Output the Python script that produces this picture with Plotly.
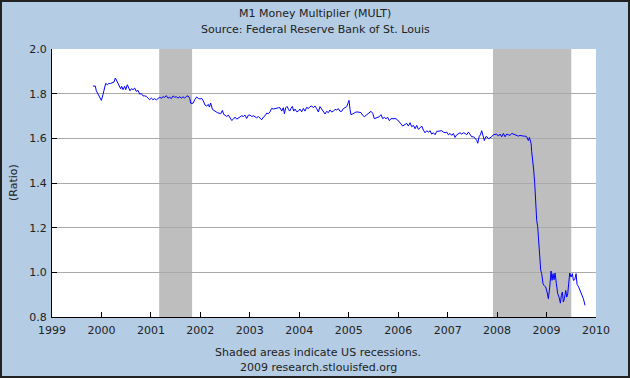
import plotly.graph_objects as go

# ---- data (decimal years, ratio) ----
dates = [
    1999.829, 1999.876, 1999.896, 1999.930, 1999.964, 1999.998, 2000.031, 2000.065, 2000.085, 2000.119,
    2000.146, 2000.186, 2000.227, 2000.254, 2000.281, 2000.308, 2000.335, 2000.362, 2000.389, 2000.409,
    2000.436, 2000.470, 2000.490, 2000.523, 2000.550, 2000.577, 2000.604, 2000.638, 2000.672, 2000.705,
    2000.739, 2000.773, 2000.806, 2000.840, 2000.874, 2000.908, 2000.941, 2000.975, 2001.009, 2001.042,
    2001.076, 2001.110, 2001.144, 2001.177, 2001.211, 2001.245, 2001.279, 2001.312, 2001.346, 2001.380,
    2001.413, 2001.447, 2001.481, 2001.514, 2001.548, 2001.582, 2001.615, 2001.649, 2001.683, 2001.716,
    2001.750, 2001.784, 2001.804, 2001.851,
    2001.892, 2001.926, 2001.959, 2001.993, 2002.027, 2002.061, 2002.094, 2002.128, 2002.162, 2002.182,
    2002.209, 2002.243, 2002.276, 2002.310, 2002.344, 2002.377, 2002.411, 2002.445, 2002.472, 2002.499,
    2002.532, 2002.566, 2002.600, 2002.634, 2002.667, 2002.701, 2002.735, 2002.768, 2002.802, 2002.836,
    2002.869, 2002.903, 2002.937, 2002.971, 2003.004, 2003.038, 2003.072, 2003.105, 2003.139, 2003.173,
    2003.206, 2003.240, 2003.274, 2003.308, 2003.341, 2003.375, 2003.409, 2003.442, 2003.476, 2003.510,
    2003.543, 2003.577, 2003.611, 2003.645, 2003.678, 2003.699, 2003.726, 2003.753, 2003.780, 2003.806,
    2003.833, 2003.860, 2003.887, 2003.914, 2003.948, 2003.982, 2004.015, 2004.049, 2004.083, 2004.116,
    2004.150, 2004.184, 2004.217, 2004.251, 2004.285, 2004.318, 2004.352, 2004.386, 2004.419, 2004.453,
    2004.487, 2004.521, 2004.554, 2004.588, 2004.622, 2004.655, 2004.689, 2004.723, 2004.757, 2004.790,
    2004.824, 2004.858, 2004.891, 2004.925, 2004.959, 2004.979, 2005.006, 2005.026, 2005.046, 2005.080,
    2005.114, 2005.147, 2005.181, 2005.215, 2005.249, 2005.282, 2005.316, 2005.350, 2005.383, 2005.417,
    2005.451, 2005.485, 2005.518, 2005.552, 2005.586, 2005.619, 2005.653, 2005.687, 2005.720, 2005.754,
    2005.788, 2005.822, 2005.855, 2005.889, 2005.923, 2005.956, 2005.990, 2006.024, 2006.058, 2006.091,
    2006.125,
    2006.173, 2006.206, 2006.240, 2006.274, 2006.308, 2006.341, 2006.375, 2006.409, 2006.442, 2006.476,
    2006.510, 2006.543, 2006.577, 2006.611, 2006.645, 2006.678, 2006.712, 2006.746, 2006.779, 2006.813,
    2006.847, 2006.880, 2006.914, 2006.948, 2006.982, 2007.015, 2007.049, 2007.083, 2007.116, 2007.150,
    2007.184, 2007.218, 2007.251, 2007.285, 2007.319, 2007.352, 2007.386, 2007.420, 2007.453, 2007.487,
    2007.521, 2007.555, 2007.588, 2007.609, 2007.636, 2007.662, 2007.689, 2007.716, 2007.743, 2007.770,
    2007.797, 2007.824, 2007.858, 2007.892, 2007.925, 2007.959, 2007.993, 2008.026, 2008.060, 2008.094,
    2008.128, 2008.161, 2008.195, 2008.229, 2008.262, 2008.296, 2008.330, 2008.363,
    2008.430, 2008.464, 2008.498, 2008.532, 2008.565, 2008.599, 2008.619, 2008.633, 2008.653, 2008.673,
    2008.687, 2008.700, 2008.720, 2008.740, 2008.761, 2008.781, 2008.801, 2008.821, 2008.842, 2008.862,
    2008.882, 2008.902, 2008.929, 2008.956, 2008.983, 2009.010, 2009.037, 2009.064, 2009.091, 2009.111,
    2009.131, 2009.152, 2009.172, 2009.199, 2009.226, 2009.253, 2009.280, 2009.300, 2009.320, 2009.340,
    2009.361, 2009.388, 2009.408, 2009.428, 2009.448, 2009.469, 2009.496, 2009.522, 2009.543, 2009.570,
    2009.597, 2009.617, 2009.644, 2009.677, 2009.711, 2009.745, 2009.779,
]

mult = [
    1.834, 1.834, 1.813, 1.796, 1.784, 1.770, 1.796, 1.837, 1.846, 1.840,
    1.845, 1.846, 1.850, 1.852, 1.870, 1.858, 1.840, 1.833, 1.822, 1.833,
    1.818, 1.833, 1.818, 1.840, 1.822, 1.813, 1.822, 1.818, 1.825, 1.810,
    1.815, 1.798, 1.801, 1.790, 1.790, 1.788, 1.780, 1.773, 1.780, 1.773,
    1.778, 1.772, 1.778, 1.784, 1.780, 1.786, 1.784, 1.791, 1.780, 1.784,
    1.778, 1.790, 1.784, 1.786, 1.780, 1.786, 1.780, 1.786, 1.780, 1.788,
    1.790, 1.780, 1.757, 1.757,
    1.775, 1.785, 1.779, 1.776, 1.779, 1.767, 1.749, 1.745, 1.752, 1.740,
    1.758, 1.730, 1.725, 1.719, 1.715, 1.713, 1.710, 1.725, 1.707, 1.704,
    1.698, 1.704, 1.692, 1.680, 1.686, 1.695, 1.686, 1.692, 1.698, 1.701,
    1.698, 1.704, 1.689, 1.704, 1.704, 1.698, 1.701, 1.698, 1.692, 1.698,
    1.689, 1.683, 1.695, 1.701, 1.713, 1.710, 1.719, 1.734, 1.731, 1.734,
    1.734, 1.737, 1.737, 1.722, 1.737, 1.710, 1.737, 1.743, 1.731, 1.722,
    1.734, 1.743, 1.722, 1.731, 1.719, 1.722, 1.731, 1.719, 1.734, 1.722,
    1.739, 1.733, 1.742, 1.745, 1.737, 1.745, 1.733, 1.718, 1.742, 1.730,
    1.718, 1.709, 1.721, 1.715, 1.727, 1.718, 1.721, 1.730, 1.727, 1.733,
    1.721, 1.721, 1.733, 1.736, 1.742, 1.754, 1.770, 1.730, 1.706, 1.709,
    1.715, 1.718, 1.718, 1.715, 1.715, 1.703, 1.697, 1.703, 1.709, 1.715,
    1.721, 1.712, 1.688, 1.691, 1.694, 1.697, 1.706, 1.688, 1.694, 1.688,
    1.694, 1.679, 1.688, 1.688, 1.688, 1.688, 1.682, 1.670, 1.664, 1.655,
    1.661,
    1.667, 1.655, 1.670, 1.652, 1.658, 1.643, 1.658, 1.640, 1.646, 1.655,
    1.637, 1.625, 1.634, 1.628, 1.634, 1.619, 1.625, 1.616, 1.631, 1.631,
    1.631, 1.634, 1.628, 1.625, 1.628, 1.616, 1.622, 1.613, 1.622, 1.604,
    1.616, 1.619, 1.625, 1.619, 1.625, 1.622, 1.616, 1.628, 1.616, 1.607,
    1.607, 1.601, 1.590, 1.578, 1.607, 1.616, 1.634, 1.613, 1.590, 1.607,
    1.607, 1.598, 1.601, 1.607, 1.616, 1.616, 1.619, 1.610, 1.619, 1.607,
    1.622, 1.607, 1.619, 1.616, 1.613, 1.622, 1.619, 1.613,
    1.610, 1.613, 1.610, 1.610, 1.610, 1.607, 1.596, 1.590, 1.604, 1.590,
    1.578, 1.540, 1.503, 1.458, 1.398, 1.293, 1.233, 1.204, 1.144, 1.054,
    1.009, 0.994, 0.949, 0.940, 0.934, 0.912, 0.882, 0.934, 1.006, 0.964,
    0.994, 0.967, 0.997, 0.949, 0.904, 0.889, 0.862, 0.897, 0.912, 0.867,
    0.882, 0.919, 0.889, 0.904, 0.949, 0.997, 0.979, 0.994, 0.964, 0.967,
    0.994, 0.946, 0.937, 0.919, 0.904, 0.882, 0.852,
]

recession_start = [2001.167, 2007.917]
recession_end = [2001.833, 2009.5]

x_ticks = list(range(1999, 2011))
y_ticks = [0.8, 1.0, 1.2, 1.4, 1.6, 1.8, 2.0]

title_lines = ["M1 Money Multiplier (MULT)", "Source: Federal Reserve Bank of St. Louis"]
footer_lines = ["Shaded areas indicate US recessions.", "2009 research.stlouisfed.org"]
y_title = "(Ratio)"

FONT = "DejaVu Sans"
BG = "#B4CCE4"
TXT = "#222222"

fig = go.Figure()

for s, e in zip(recession_start, recession_end):
    fig.add_vrect(x0=s, x1=e, fillcolor="#BEBEBE", opacity=1, line_width=0, layer="below")

fig.add_trace(go.Scatter(x=dates, y=mult, mode="lines",
                         line=dict(color="#0000FF", width=1),
                         hoverinfo="x+y", showlegend=False))

W, H = 630, 378
L, R, T, B = 52, 34, 49, 61
pw, ph = W - L - R, H - T - B

fig.update_layout(
    width=W, height=H,
    margin=dict(l=L, r=R, t=T, b=B),
    paper_bgcolor=BG, plot_bgcolor="white",
    font=dict(family=FONT, size=11, color=TXT),
    showlegend=False,
    xaxis=dict(range=[1999, 2010], tickvals=x_ticks, ticktext=[str(v) for v in x_ticks],
               ticks="inside", ticklen=5, tickcolor="black", tickwidth=1,
               ticklabelstandoff=3,
               showgrid=False, zeroline=False, showline=True, linecolor="black", linewidth=1,
               tickfont=dict(size=11, family=FONT, color=TXT)),
    yaxis=dict(range=[0.8, 2.0], tickvals=y_ticks, ticktext=[f"{v:.1f}" for v in y_ticks],
               ticks="inside", ticklen=5, tickcolor="black", tickwidth=1,
               ticklabelstandoff=2,
               showgrid=True, gridcolor="#AAAAAA", gridwidth=1, zeroline=False,
               showline=True, linecolor="black", linewidth=1,
               tickfont=dict(size=11, family=FONT, color=TXT)),
)


def px_x(px):
    return (px - L) / pw


def px_y(py):
    return 1 - (py - T) / ph


def label(text, x, y, angle=0):
    fig.add_annotation(text=text, x=px_x(x), y=px_y(y), xref="paper", yref="paper",
                       showarrow=False, xanchor="center", yanchor="middle", textangle=angle,
                       font=dict(size=11, family=FONT, color=TXT))


label(title_lines[0], 315, 13)
label(title_lines[1], 315, 29)
label(footer_lines[0], 318, 352)
label(footer_lines[1], 318, 367)
label(y_title, 13, 183, -90)

# outer dark frame
fig.add_shape(type="rect", xref="paper", yref="paper",
              x0=px_x(1), x1=px_x(W - 1), y0=px_y(H - 1), y1=px_y(1),
              line=dict(color="#222222", width=2), fillcolor="rgba(0,0,0,0)", layer="above")

fig.write_html("out.html", config={"displayModeBar": False},
               post_script="document.body.style.margin='0';document.body.style.overflow='hidden';")
